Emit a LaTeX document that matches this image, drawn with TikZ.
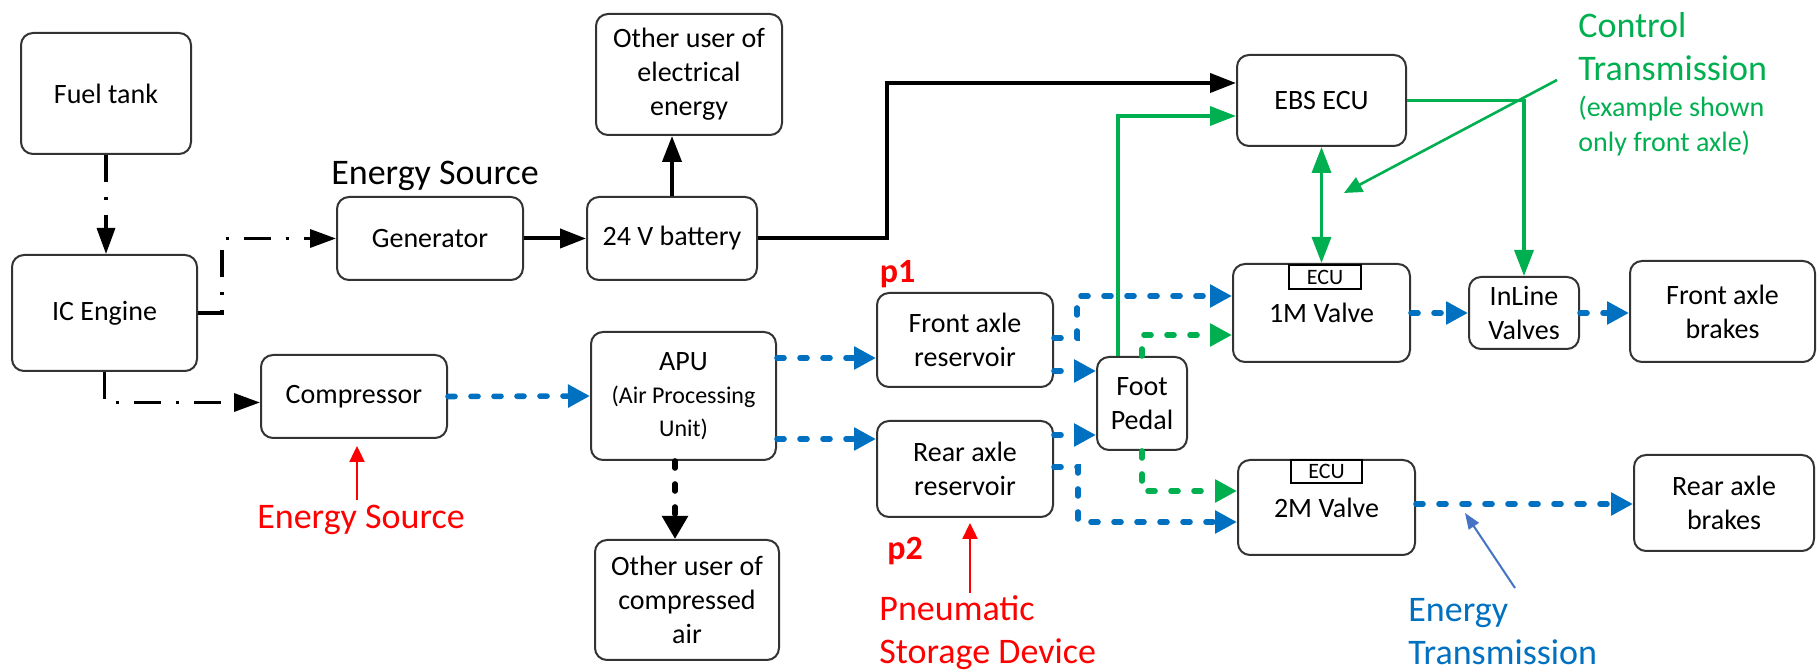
\documentclass[tikz,border=0pt]{standalone}
\usepackage{fontspec}
\setmainfont{Carlito}
\usetikzlibrary{arrows.meta,calc}
\definecolor{pblue}{HTML}{0070C0}
\definecolor{cgreen}{HTML}{00B050}
\definecolor{ptrblue}{HTML}{4472C4}
\definecolor{boxline}{HTML}{333333}
\begin{document}
\begin{tikzpicture}[x=0.5pt,y=-0.5pt,
  box/.style={draw=boxline, line width=1pt, rounded corners=6pt, inner sep=0pt, align=center, font=\fontsize{14}{17}\selectfont},
  ecubox/.style={draw=black, line width=0.8pt, inner sep=0pt, font=\fontsize{11}{12}\selectfont},
  mech/.style={line width=1.7pt, dash pattern=on 13.5pt off 7.5pt on 1.5pt off 7.5pt, -{Triangle[length=13pt,width=9pt]}},
  elec/.style={line width=2pt, -{Triangle[length=13pt,width=9.5pt]}},
  pneu/.style={color=pblue, line width=2.8pt, line cap=round, dash pattern=on 3.5pt off 8pt, -{Triangle[length=11pt,width=11pt]}},
  airblk/.style={color=black, line width=2.8pt, line cap=round, dash pattern=on 3.5pt off 8pt, -{Triangle[length=11.5pt,width=12.5pt]}},
  ctrld/.style={color=cgreen, line width=2.8pt, line cap=round, dash pattern=on 3.5pt off 8pt, -{Triangle[length=11pt,width=11pt]}},
  ctrl/.style={color=cgreen, line width=1.7pt, -{Triangle[length=13pt,width=9.5pt]}},
  ctrlboth/.style={color=cgreen, line width=1.7pt, {Triangle[length=13pt,width=9.5pt]}-{Triangle[length=13pt,width=9.5pt]}},
  gptr/.style={color=cgreen, line width=1.3pt, -{Triangle[length=9pt,width=8pt]}},
  bptr/.style={color=ptrblue, line width=1pt, -{Triangle[length=8pt,width=6pt]}},
  rptr/.style={color=red, line width=1.2pt, -{Triangle[length=8pt,width=7.5pt]}},
  biglabel/.style={inner sep=0pt, font=\fontsize{18}{21.5}\selectfont},
  plabel/.style={inner sep=0pt, text=red, font=\fontsize{17}{20}\selectfont\bfseries}
]
\useasboundingbox (0,0) rectangle (1820,672);

% boxes
\node[box, minimum width=85pt, minimum height=60.5pt] (fuel) at (106,93.5) {Fuel tank};
\node[box, minimum width=92.5pt, minimum height=58pt] (ice) at (104.5,313) {IC Engine};
\node[box, minimum width=93pt, minimum height=41.5pt] (gen) at (430,238.5) {Generator};
\node[box, minimum width=85pt, minimum height=41.5pt] (bat) at (672,238.5) {24 V battery};
\node[box, minimum width=93pt, minimum height=60.5pt] (oue) at (689,74.5) {Other user of\\electrical\\energy};
\node[box, minimum width=93pt, minimum height=41.5pt] (comp) at (354,396.5) {Compressor};
\node[box, minimum width=92.5pt, minimum height=64pt, font=\fontsize{12}{16.5}\selectfont] (apu) at (683.5,396) {{\fontsize{14}{16.5}\selectfont APU}\\(Air Processing\\Unit)};
\node[box, minimum width=92pt, minimum height=60pt] (ouc) at (687,600) {Other user of\\compressed\\air};
\node[box, minimum width=88pt, minimum height=47pt] (far) at (965,340) {Front axle\\reservoir};
\node[box, minimum width=88pt, minimum height=48pt] (rar) at (965,469) {Rear axle\\reservoir};
\node[box, minimum width=45pt, minimum height=46.5pt] (foot) at (1142,403.5) {Foot\\Pedal};
\node[box, minimum width=84.5pt, minimum height=45.5pt] (ebs) at (1321.5,100.5) {EBS ECU};
\node[box, minimum width=88.5pt, minimum height=49pt] (v1m) at (1321.5,313) {1M Valve};
\node[box, minimum width=88.5pt, minimum height=47.5pt] (v2m) at (1326.5,507.5) {2M Valve};
\node[box, minimum width=55pt, minimum height=36pt] (inl) at (1524,313) {InLine\\Valves};
\node[box, minimum width=92.5pt, minimum height=50.5pt] (fab) at (1722.5,311.5) {Front axle\\brakes};
\node[box, minimum width=90pt, minimum height=48pt] (rab) at (1724,503) {Rear axle\\brakes};
\node[ecubox, minimum width=36pt, minimum height=12pt] (ecu1) at (1325,277) {ECU};
\node[ecubox, minimum width=35.5pt, minimum height=11.5pt] (ecu2) at (1326.5,471.5) {ECU};

% labels
\node[biglabel] (esrc) at (435,176) {Energy Source};
\node[biglabel, text=red] (esrc2) at (361,520) {Energy Source};
\node[biglabel, text=red, align=left, anchor=west] (psd) at (879,632.5) {Pneumatic\\Storage Device};
\node[biglabel, text=pblue, align=left, anchor=west] (etx) at (1408,631.5) {Energy\\Transmission};
\node[biglabel, text=cgreen, align=left, anchor=west] (ctx) at (1578,46.5) {Control\\Transmission};
\node[inner sep=0pt, text=cgreen, align=left, anchor=west, font=\fontsize{14}{17.5}\selectfont] (ctx2) at (1578,126.5) {(example shown\\only front axle)};
\node[plabel] (p1) at (897.5,274.5) {p1};
\node[plabel] (p2) at (905,551.5) {p2};

% mechanical (dash-dot)
\coordinate (j1) at (222,238.5);
\draw[mech] (fuel.south) -- (fuel.south |- ice.north);
\draw[mech] (ice.east) -| (j1) -- (gen.west);
\draw[mech] (ice.south) |- ($(comp.west)+(0,6)$);

% electrical
\coordinate (j2) at (887,83);
\draw[elec] (gen.east) -- (bat.west);
\draw[elec] (bat.north) -- (bat.north |- oue.south);
\draw[elec] (bat.east) -| (j2) -- (ebs.west |- j2);

% pneumatic
\coordinate (j3) at (1077,296);
\coordinate (j4) at (1078,522);
\draw[pneu] (comp.east) -- (apu.west);
\draw[pneu] (apu.east |- 0,358) -- (far.west |- 0,358);
\draw[pneu] (apu.east |- 0,439) -- (rar.west |- 0,439);
\draw[pneu] (far.east |- 0,338) -| (j3) -- (v1m.west |- j3);
\draw[pneu] (far.east |- 0,371) -- (foot.west |- 0,371);
\draw[pneu] (rar.east |- 0,435) -- (foot.west |- 0,435);
\draw[pneu] (rar.east |- 0,467) -| (j4) -- (v2m.west |- j4);
\draw[pneu] (v1m.east) -- (inl.west);
\draw[pneu] (inl.east) -- (fab.west |- inl.east);
\draw[pneu] (v2m.east |- 0,504) -- (rab.west |- 0,504);
\draw[airblk] (apu.south -| 675,0) -- (ouc.north -| 675,0);

% control
\draw[ctrld] (foot.north) |- (v1m.west |- 0,335);
\draw[ctrld] (foot.south) |- (v2m.west |- 0,491);
\draw[ctrl] (foot.north -| 1118,0) |- (ebs.west |- 0,116);
\draw[ctrl] (ebs.east) -| (inl.north);
\draw[ctrlboth] (ebs.south) -- (ebs.south |- v1m.north);

% pointers
\coordinate (ctp) at (1557,80);
\coordinate (ctt) at (1344,193);
\coordinate (etp) at (1515,588);
\coordinate (ett) at (1465,513);
\coordinate (rs1) at (357,500);
\coordinate (rs2) at (357,446);
\coordinate (rp1) at (970,593);
\coordinate (rp2) at (970,523);
\draw[gptr] (ctp) -- (ctt);
\draw[bptr] (etp) -- (ett);
\draw[rptr] (rs1) -- (rs2);
\draw[rptr] (rp1) -- (rp2);
\end{tikzpicture}
\end{document}
